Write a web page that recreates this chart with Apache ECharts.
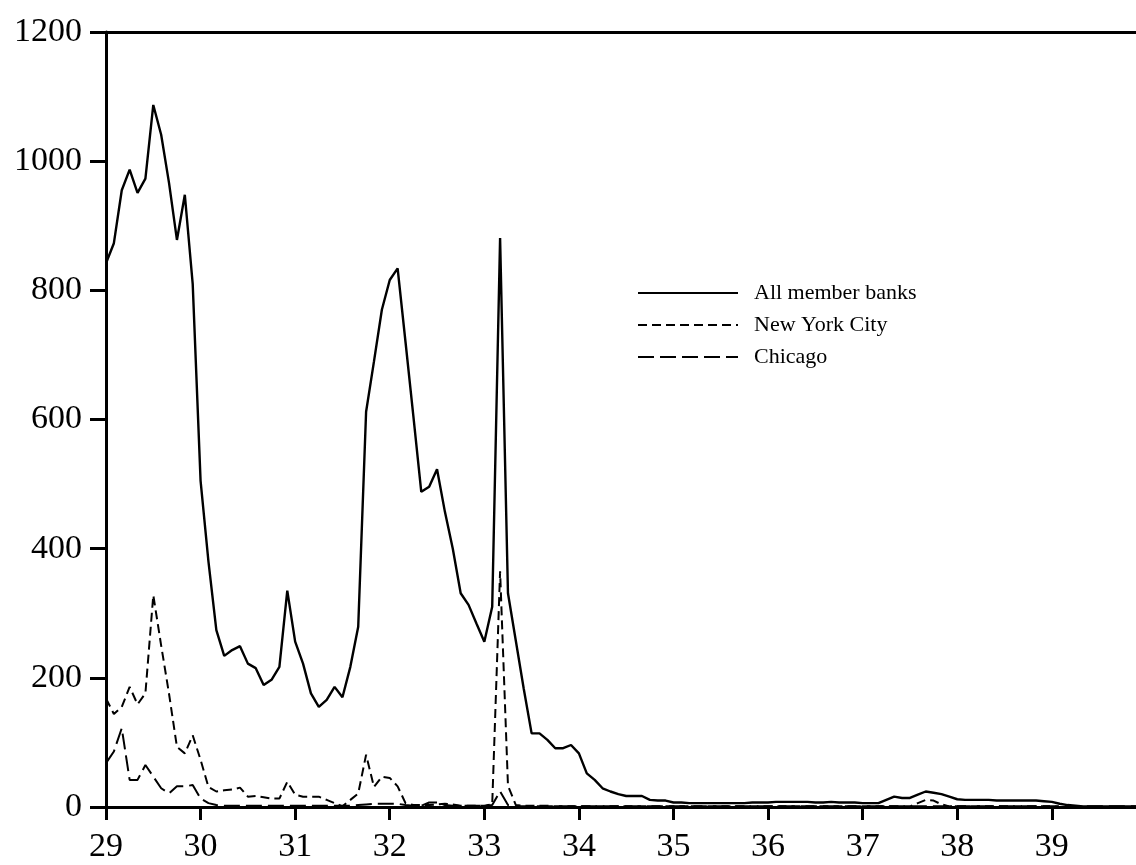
<!DOCTYPE html>
<html>
<head>
<meta charset="utf-8">
<script src="https://cdn.jsdelivr.net/npm/echarts@6/dist/echarts.min.js"></script>
<style>
html,body{margin:0;padding:0;background:#fff;}
#chart{width:1136px;height:865px;}
</style>
</head>
<body>
<div id="chart"></div>
<script>
// Monthly data, Jan 1929 .. Dec 1939 (millions of dollars)
var startYear = 29;
var yTicks = [0, 200, 400, 600, 800, 1000, 1200];
var xTicks = [29, 30, 31, 32, 33, 34, 35, 36, 37, 38, 39];

var allMemberBanks = [
  842, 873, 955, 987, 951, 973, 1087, 1041, 966, 878, 948, 810,   // 1929
  505, 380, 274, 234, 243, 249, 222, 215, 189, 197, 217, 335,     // 1930
  256, 222, 176, 155, 166, 186, 170, 217, 279, 612, 690, 770,     // 1931
  816, 834, 720, 605, 488, 496, 523, 457, 400, 331, 313, 284,     // 1932
  256, 310, 881, 331, 257, 183, 114, 114, 104, 91, 91, 96,        // 1933
  83, 52, 42, 29, 24, 20, 17, 17, 17, 11, 10, 10,                 // 1934
  7, 7, 6, 6, 6, 6, 6, 6, 6, 6, 7, 7,                             // 1935
  7, 8, 8, 8, 8, 8, 7, 7, 8, 7, 7, 7,                             // 1936
  6, 6, 6, 11, 16, 14, 14, 19, 24, 22, 20, 16,                    // 1937
  12, 11, 11, 11, 11, 10, 10, 10, 10, 10, 10, 9,                  // 1938
  8, 5, 3, 2, 1, 1, 1, 1, 1, 1, 1, 1                              // 1939
];

var newYorkCity = [
  168, 144, 155, 186, 159, 176, 328, 250, 175, 93, 83, 111,       // 1929
  73, 31, 24, 26, 27, 30, 16, 17, 15, 13, 13, 39,                 // 1930
  19, 16, 16, 16, 11, 6, 1, 11, 21, 81, 31, 47,                   // 1931
  45, 32, 6, 3, 3, 3, 4, 5, 4, 2, 2, 2,                           // 1932
  2, 4, 365, 33, 3, 2, 2, 2, 2, 1, 1, 1,                          // 1933
  1, 1, 1, 1, 1, 1, 1, 1, 1, 1, 1, 1,                             // 1934
  1, 1, 1, 1, 1, 1, 1, 1, 1, 1, 1, 1,                             // 1935
  1, 1, 1, 1, 1, 1, 1, 1, 1, 1, 1, 1,                             // 1936
  1, 1, 1, 1, 1, 1, 1, 6, 11, 10, 4, 1,                           // 1937
  1, 1, 1, 1, 1, 1, 1, 1, 1, 1, 1, 1,                             // 1938
  1, 0, 0, 0, 0, 0, 0, 0, 0, 0, 0, 0                              // 1939
];

var chicago = [
  68, 86, 122, 42, 42, 65, 47, 29, 21, 32, 32, 34,                // 1929
  13, 6, 3, 2, 2, 2, 2, 2, 2, 2, 2, 2,                            // 1930
  2, 2, 2, 2, 2, 2, 2, 2, 3, 4, 5, 5,                             // 1931
  5, 5, 3, 2, 2, 7, 7, 3, 2, 2, 2, 2,                             // 1932
  2, 3, 24, 3, 1, 1, 1, 1, 1, 1, 1, 1,                            // 1933
  1, 1, 1, 1, 1, 1, 1, 1, 1, 1, 1, 1,                             // 1934
  1, 1, 1, 1, 1, 1, 1, 1, 1, 1, 1, 1,                             // 1935
  1, 1, 1, 1, 1, 1, 1, 1, 1, 1, 1, 1,                             // 1936
  1, 1, 1, 1, 1, 1, 1, 1, 1, 1, 1, 1,                             // 1937
  1, 1, 1, 1, 1, 1, 1, 1, 1, 1, 1, 1,                             // 1938
  1, 1, 1, 1, 1, 1, 1, 1, 1, 1, 1, 1                              // 1939
];

var seriesNames = ['All member banks', 'New York City', 'Chicago'];

function toPairs(arr) {
  return arr.map(function (v, i) { return [startYear + i / 12, v]; });
}

var FONT = '"Liberation Serif", "Times New Roman", serif';
var X_MAX = 39.89;
var chart = echarts.init(document.getElementById('chart'), null, { renderer: 'canvas' });

chart.setOption({
  animation: false,
  backgroundColor: '#ffffff',
  grid: { left: 106, top: 32, right: 0, bottom: 58, show: false },
  legend: {
    orient: 'vertical',
    left: 637, top: 282, padding: 0,
    itemWidth: 100, itemHeight: 14, itemGap: 10,
    selectedMode: false,
    data: seriesNames,
    itemStyle: { opacity: 0 },
    textStyle: { fontFamily: FONT, fontSize: 22, color: '#000', padding: [0, 0, 0, 11] }
  },
  xAxis: [
    {
      type: 'value', position: 'bottom',
      min: xTicks[0], max: X_MAX, interval: 1,
      axisLine: { show: true, lineStyle: { color: '#000', width: 3 } },
      axisTick: { show: true, inside: false, length: 13, customValues: xTicks,
                  lineStyle: { color: '#000', width: 3 } },
      splitLine: { show: false },
      axisLabel: {
        margin: 23, color: '#000', fontFamily: FONT, fontSize: 34, customValues: xTicks,
        formatter: function (v) { return xTicks.indexOf(v) >= 0 ? String(v) : ''; }
      }
    },
    {
      type: 'value', position: 'top',
      min: xTicks[0], max: X_MAX,
      axisLine: { show: true, lineStyle: { color: '#000', width: 3 } },
      axisTick: { show: false }, axisLabel: { show: false }, splitLine: { show: false }
    }
  ],
  yAxis: {
    type: 'value',
    min: yTicks[0], max: yTicks[yTicks.length - 1], interval: 200,
    axisLine: { show: true, lineStyle: { color: '#000', width: 3 } },
    axisTick: { show: true, inside: false, length: 16, lineStyle: { color: '#000', width: 3 } },
    splitLine: { show: false },
    axisLabel: { margin: 24, color: '#000', fontFamily: FONT, fontSize: 34,
                 formatter: function (v) { return String(v); } }
  },
  series: [
    {
      name: seriesNames[0], type: 'line', data: toPairs(allMemberBanks),
      symbol: 'none', lineStyle: { color: '#000', width: 2.4, type: 'solid' },
      itemStyle: { color: '#000' }, z: 3
    },
    {
      name: seriesNames[1], type: 'line', data: toPairs(newYorkCity),
      symbol: 'none', lineStyle: { color: '#000', width: 2, type: [9, 5] },
      itemStyle: { color: '#000' }, z: 2
    },
    {
      name: seriesNames[2], type: 'line', data: toPairs(chicago),
      symbol: 'none', lineStyle: { color: '#000', width: 2, type: [16, 6] },
      itemStyle: { color: '#000' }, z: 2
    }
  ]
});
</script>
</body>
</html>
